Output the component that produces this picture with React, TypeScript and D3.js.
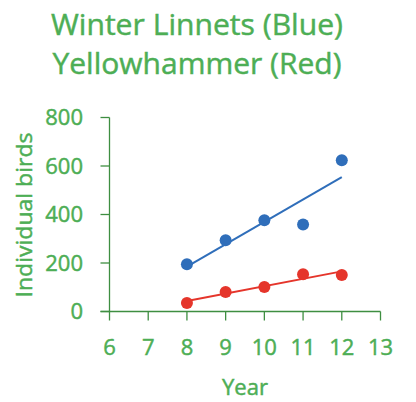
import React from "react";
import * as d3 from "d3";

const years = [8, 9, 10, 11, 12];
const linnets = [195, 294, 376, 359, 624];
const yellowhammer = [35, 80, 101, 154, 151];
const xTicks = [6, 7, 8, 9, 10, 11, 12, 13];
const yTicks = [0, 200, 400, 600, 800];
const titleLines = ["Winter Linnets (Blue)", "Yellowhammer (Red)"];

const W = 416, H = 402;
const green = "#4DAE55";
const axisColor = "#3E8E41";
const blue = "#2F6EBA";
const red = "#E5352B";
const font = "'Open Sans', 'Noto Sans', sans-serif";

function fit(xs: number[], ys: number[]) {
  const mx = d3.mean(xs)!, my = d3.mean(ys)!;
  let num = 0, den = 0;
  xs.forEach((x, i) => { num += (x - mx) * (ys[i] - my); den += (x - mx) ** 2; });
  const b = num / den;
  return (x: number) => my + b * (x - mx);
}

export default function App() {
  const x = d3.scaleLinear().domain([6, 13]).range([109.5, 380.5]);
  const y = d3.scaleLinear().domain([0, 800]).range([311.5, 117.5]);
  const series = [
    { vals: linnets, color: blue },
    { vals: yellowhammer, color: red },
  ];
  const txt = { fill: green, fontFamily: font, stroke: green, strokeWidth: 0.45 };
  return (
    <svg width={W} height={H} style={{ position: "absolute", left: 0, top: 0, background: "#fff" }}>
      {titleLines.map((t, i) => (
        <text key={t} x={197} y={35 + i * 39} textAnchor="middle" {...txt}
          fontSize={30} textLength={i === 0 ? 292 : 289} lengthAdjust="spacingAndGlyphs">{t}</text>
      ))}
      {/* y axis */}
      <line x1={x(6)} x2={x(6)} y1={y(800)} y2={y(0)} stroke={axisColor} strokeWidth={1.3} />
      {yTicks.map(t => (
        <g key={t}>
          <line x1={x(6) - 9} x2={x(6)} y1={y(t)} y2={y(t)} stroke={axisColor} strokeWidth={1.3} />
          <text x={83} y={y(t)} dy="0.36em" textAnchor="end" {...txt} fontSize={22}>{t}</text>
        </g>
      ))}
      {/* x axis */}
      <line x1={x(6) - 9} x2={x(13)} y1={y(0)} y2={y(0)} stroke={axisColor} strokeWidth={1.3} />
      {xTicks.map(t => (
        <g key={t}>
          <line x1={x(t)} x2={x(t)} y1={y(0)} y2={y(0) + 9} stroke={axisColor} strokeWidth={1.3} />
          <text x={x(t)} y={347} dy="0.36em" textAnchor="middle" {...txt} fontSize={22}>{t}</text>
        </g>
      ))}
      <text x={245} y={387} dy="0.36em" textAnchor="middle" {...txt} fontSize={22} textLength={46} lengthAdjust="spacingAndGlyphs">Year</text>
      <text transform={`translate(24,215) rotate(-90)`} textAnchor="middle" dy="0.36em" {...txt} fontSize={22} textLength={165} lengthAdjust="spacingAndGlyphs">Individual birds</text>
      {series.map((s, si) => {
        const f = fit(years, s.vals);
        const x0 = years[0], x1 = years[years.length - 1];
        return (
          <g key={si}>
            <line x1={x(x0)} y1={y(f(x0))} x2={x(x1)} y2={y(f(x1))} stroke={s.color} strokeWidth={2} />
            {years.map((yr, i) => (
              <circle key={yr} cx={x(yr)} cy={y(s.vals[i])} r={6} fill={s.color} />
            ))}
          </g>
        );
      })}
    </svg>
  );
}
